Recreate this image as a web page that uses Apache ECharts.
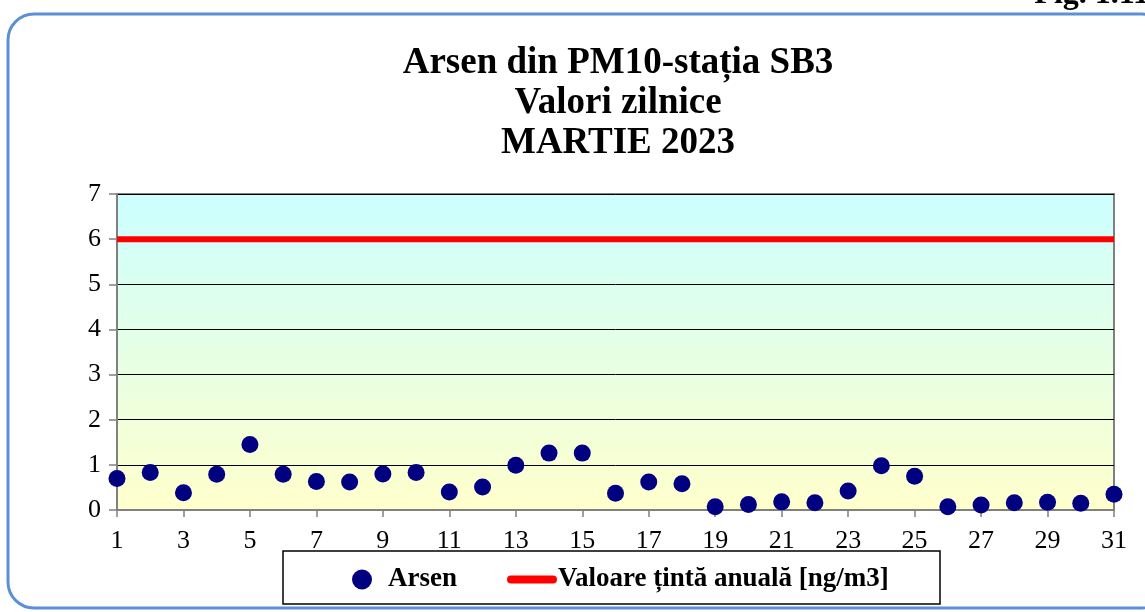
<!DOCTYPE html>
<html>
<head>
<meta charset="utf-8">
<script src="https://cdn.jsdelivr.net/npm/echarts@6/dist/echarts.min.js"></script>
<style>
  html, body { margin: 0; padding: 0; background: #fff; }
  #chart { width: 1145px; height: 612px; }
</style>
</head>
<body>
<div id="chart"></div>
<script>
var days = []
for (var d = 1; d <= 31; d++) days.push(String(d))

// Arsen, valori zilnice [ng/m3]
var arsenValues = [
    0.70, 0.83, 0.38, 0.79, 1.45, 0.79, 0.63, 0.62, 0.80, 0.83,
    0.40, 0.51, 0.99, 1.26, 1.26, 0.37, 0.62, 0.58, 0.07, 0.12,
    0.18, 0.16, 0.42, 0.98, 0.75, 0.07, 0.11, 0.16, 0.17, 0.15,
    0.35,
]
var targetValues = days.map(function () { return 6 })
var yTicks = [0, 1, 2, 3, 4, 5, 6, 7]

var serif = '"Liberation Serif", "DejaVu Serif", serif'

var myChart = echarts.init(document.getElementById('chart'))
var option = {
    animation: false,
    title: {
        text: 'Arsen din PM10-stația SB3\nValori zilnice\nMARTIE 2023',
        left: 613,
        textAlign: 'center',
        top: 38,
        textStyle: {
            fontFamily: serif,
            fontSize: 37,
            fontWeight: 'bold',
            color: '#000',
            lineHeight: 40,
        },
    },
    graphic: [
        {
            type: 'rect',
            shape: { x: 8, y: 14, width: 1160, height: 594, r: 26 },
            style: { fill: 'none', stroke: '#5b8fd6', lineWidth: 3 },
            z: -1,
        },
        {
            type: 'text',
            right: -12,
            top: -21,
            style: { text: 'Fig. 1.11.', font: 'bold 32px ' + serif, fill: '#000' },
        },
        {
            type: 'rect',
            shape: { x: 283, y: 551, width: 657, height: 53 },
            style: { fill: '#fff', stroke: '#000', lineWidth: 1.5 },
            z: 5,
        },
    ],
    grid: {
        left: 117,
        right: 31,
        top: 194,
        bottom: 102,
        show: true,
        borderColor: '#808080',
        borderWidth: 2,
        backgroundColor: {
            type: 'linear', x: 0, y: 0, x2: 0, y2: 1,
            colorStops: [
                { offset: 0, color: '#ccffff' },
                { offset: 1, color: '#ffffcc' },
            ],
        },
    },
    legend: {
        left: 347,
        top: 561,
        itemGap: 50,
        z: 10,
        textStyle: { fontFamily: serif, fontSize: 27, fontWeight: 'bold', color: '#000', padding: [0, 0, 0, -4] },
        data: [
            { name: 'Arsen', icon: 'circle' },
            { name: 'Valoare țintă anuală [ng/m3]', icon: 'path://M4,0h42a4,4 0 0 1 0,8h-42a4,4 0 0 1 0,-8z' },
        ],
        itemWidth: 50,
        itemHeight: 20,
    },
    xAxis: {
        type: 'category',
        data: days,
        boundaryGap: false,
        axisLine: { lineStyle: { color: '#808080', width: 2 } },
        axisTick: { interval: 1, length: 7, lineStyle: { color: '#808080', width: 1.5 } },
        axisLabel: { interval: 1, margin: 18, fontFamily: serif, fontSize: 26, color: '#000' },
        splitLine: { show: false },
    },
    yAxis: {
        type: 'value',
        min: yTicks[0],
        max: yTicks[yTicks.length - 1],
        interval: 1,
        axisLine: { show: true, lineStyle: { color: '#808080', width: 2 } },
        axisTick: { show: true, length: 8, lineStyle: { color: '#808080', width: 1.5 } },
        axisLabel: { margin: 16, fontFamily: serif, fontSize: 26, color: '#000' },
        splitLine: { show: true, lineStyle: { color: '#000', width: 1 } },
    },
    series: [
        {
            name: 'Valoare țintă anuală [ng/m3]',
            type: 'line',
            data: targetValues,
            symbol: 'none',
            lineStyle: { color: '#ff0000', width: 6 },
            itemStyle: { color: '#ff0000' },
            z: 3,
        },
        {
            name: 'Arsen',
            type: 'scatter',
            data: arsenValues,
            symbol: 'circle',
            symbolSize: 17,
            itemStyle: { color: '#000080', opacity: 1 },
            z: 4,
        },
    ],
}
myChart.setOption(option)
</script>
</body>
</html>
